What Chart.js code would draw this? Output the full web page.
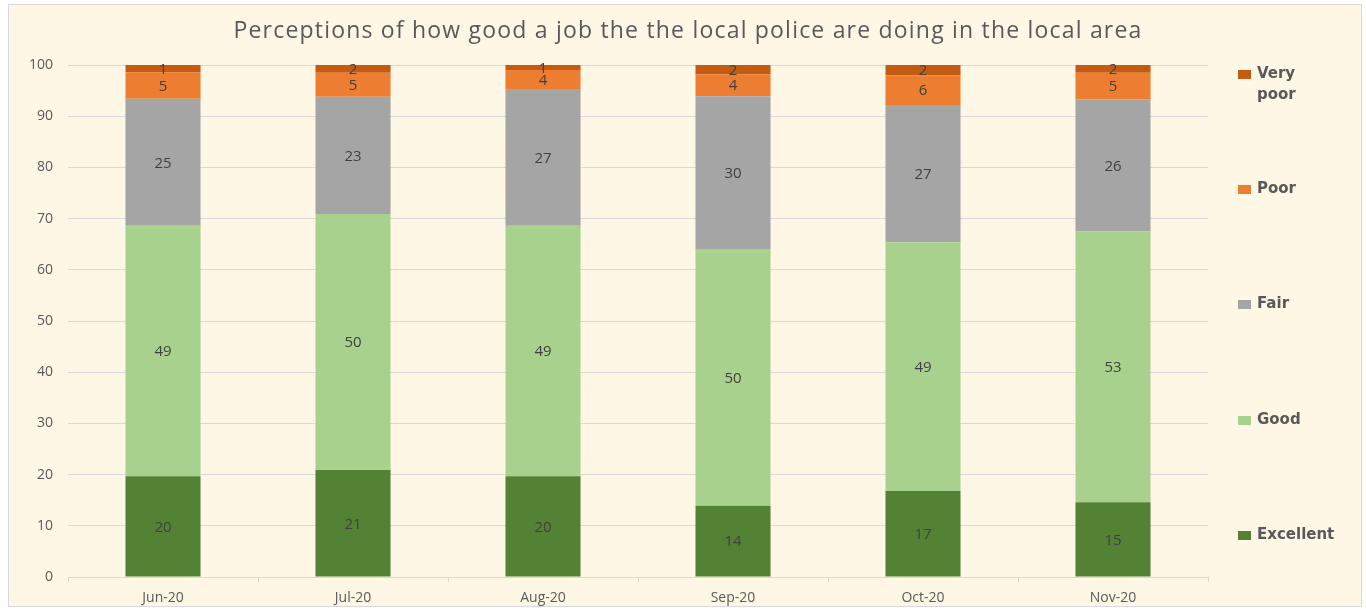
<!DOCTYPE html>
<html lang="en">
<head>
    <meta charset="UTF-8">
    <script src="https://cdn.jsdelivr.net/npm/chart.js"></script>
    <title>Police perceptions</title>
    <style>
        body { margin: 0; background: #ffffff; }
        .wrap { width: 1366px; height: 611px; }
    </style>
</head>
<body>
<div class="wrap"><canvas id="myChart" width="1366" height="611"></canvas></div>
<script>
    const months = ['Jun-20', 'Jul-20', 'Aug-20', 'Sep-20', 'Oct-20', 'Nov-20']
    const excellent = [19.7, 20.9, 19.7, 13.9, 16.8, 14.6]
    const good = [48.9, 50.0, 48.9, 50.0, 48.6, 52.9]
    const fair = [24.8, 22.9, 26.7, 30.0, 26.8, 25.8]
    const poor = [5.2, 4.7, 3.7, 4.3, 5.8, 5.2]
    const veryPoor = [1.4, 1.5, 1.0, 1.8, 2.0, 1.5]
    const yTicks = [0, 10, 20, 30, 40, 50, 60, 70, 80, 90, 100]
    const titleText = 'Perceptions of how good a job the the local police are doing in the local area'

    const bg = '#fef7e6'
    const textGrey = '#595959'

    // background, frame, title, data labels and the spaced-out legend
    const decor = {
        id: 'decor',
        beforeDraw(chart) {
            const c = chart.ctx
            c.save()
            c.fillStyle = '#ffffff'
            c.fillRect(0, 0, chart.width, chart.height)
            c.fillStyle = bg
            c.fillRect(8, 4, 1354, 603)
            c.strokeStyle = '#d9d9d9'
            c.lineWidth = 1
            c.strokeRect(8.5, 4.5, 1353, 602)
            c.restore()
        },
        afterDatasetsDraw(chart) {
            const c = chart.ctx
            c.save()
            c.font = '15px "Open Sans"'
            c.fillStyle = '#404040'
            c.textAlign = 'center'
            c.textBaseline = 'middle'
            chart.data.datasets.forEach((ds, i) => {
                chart.getDatasetMeta(i).data.forEach((bar, j) => {
                    const mid = (bar.y + bar.base) / 2
                    c.fillText(Math.round(ds.data[j]), bar.x, mid + 1)
                })
            })
            c.restore()
        },
        afterDraw(chart) {
            const c = chart.ctx
            c.save()
            c.fillStyle = textGrey
            c.font = '23px "Open Sans"'
            c.letterSpacing = '1.2px'
            c.textAlign = 'center'
            c.textBaseline = 'middle'
            c.fillText(titleText, 688, 31)
            c.letterSpacing = '0px'

            // legend, top to bottom in reverse stack order
            const rows = [74, 189, 304, 420, 535]
            const order = chart.data.datasets.slice().reverse()
            c.font = 'bold 15px "DejaVu Sans"'
            c.textAlign = 'left'
            order.forEach((ds, k) => {
                const y = rows[k]
                c.fillStyle = ds.backgroundColor
                c.fillRect(1238, y - 4, 13, 9)
                c.fillStyle = textGrey
                const parts = ds.label.split(' ')
                if (parts.length > 1) {
                    c.fillText(parts[0], 1257, y)
                    c.fillText(parts.slice(1).join(' '), 1257, y + 21)
                } else {
                    c.fillText(ds.label, 1257, y)
                }
            })
            c.restore()
        }
    }

    new Chart(document.getElementById('myChart'), {
        type: 'bar',
        data: {
            labels: months,
            datasets: [
                { label: 'Excellent', data: excellent, backgroundColor: '#548235' },
                { label: 'Good', data: good, backgroundColor: '#a9d18e' },
                { label: 'Fair', data: fair, backgroundColor: '#a5a5a5' },
                { label: 'Poor', data: poor, backgroundColor: '#ed7d31' },
                { label: 'Very poor', data: veryPoor, backgroundColor: '#c55a11' }
            ]
        },
        options: {
            responsive: false,
            animation: false,
            layout: { padding: { top: 65, right: 158, left: 14, bottom: 0 } },
            datasets: { bar: { categoryPercentage: 1, barPercentage: 0.395, borderWidth: 0 } },
            plugins: {
                legend: { display: false },
                title: { display: false },
                tooltip: { enabled: false }
            },
            scales: {
                x: {
                    stacked: true,
                    afterFit(scale) { scale.height = 34 },
                    grid: { display: true, drawOnChartArea: false, offset: true, color: '#d9d9d9', tickLength: 5 },
                    border: { color: '#d9d9d9' },
                    ticks: { color: textGrey, font: { family: 'Open Sans', size: 14 }, padding: 8 }
                },
                y: {
                    stacked: true,
                    min: 0,
                    max: 100,
                    afterBuildTicks(axis) { axis.ticks = yTicks.map(v => ({ value: v })) },
                    grid: { color: '#d9d9d9', drawTicks: false },
                    border: { display: false },
                    ticks: { color: textGrey, font: { family: 'Open Sans', size: 14 }, padding: 15 }
                }
            }
        },
        plugins: [decor]
    })
</script>
</body>
</html>
